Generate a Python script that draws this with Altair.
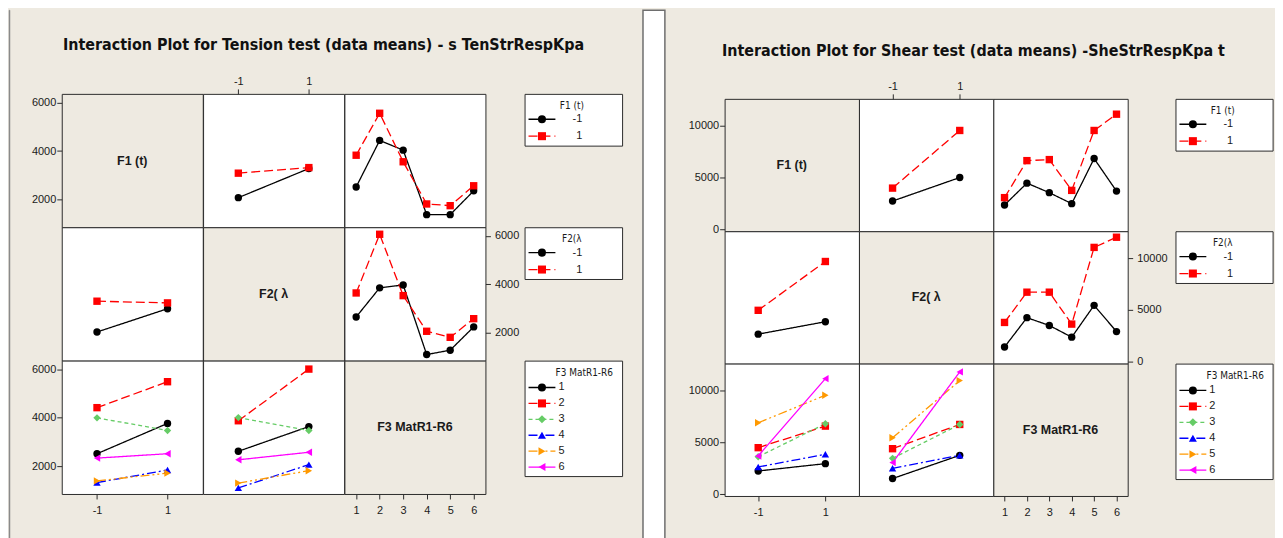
import altair as alt
import pandas as pd

# ---------------- values ----------------
F12_LEVELS = [-1, 1]
F3_LEVELS = [1, 2, 3, 4, 5, 6]
TWO_LABELS = ["-1", "1"]
SIX_LABELS = ["1", "2", "3", "4", "5", "6"]

# Tension test (left figure)
TEN_TITLE = "Interaction Plot  for Tension test (data means) - s TenStrRespKpa"
TEN_F1_BY_F2 = [[2080, 3280], [3090, 3320]]
TEN_F1_BY_F3 = [[2520, 4440, 4040, 1380, 1380, 2360],
                [3830, 5560, 3560, 1820, 1750, 2570]]
TEN_F2_BY_F1 = [[2040, 3000], [3310, 3240]]
TEN_F2_BY_F3 = [[2660, 3860, 3980, 1110, 1290, 2250],
                [3650, 6070, 3540, 2070, 1820, 2590]]
TEN_F3_BY_F1 = [[2520, 3770], [4420, 5490], [4000, 3480],
                [1330, 1850], [1400, 1720], [2340, 2520]]
TEN_F3_BY_F2 = [[2620, 3640], [3880, 6010], [4010, 3480],
                [1110, 2070], [1310, 1820], [2270, 2580]]
TEN_Y_TICKS = [2000, 4000, 6000]
TEN_Y_DOMAIN = [860, 6360]

# Shear test (right figure)
SHE_TITLE = "Interaction Plot  for Shear test  (data means)   -SheStrRespKpa t"
SHE_F1_BY_F2 = [[2740, 5010], [3990, 9550]]
SHE_F1_BY_F3 = [[2360, 4470, 3550, 2490, 6840, 3700],
                [3070, 6640, 6740, 3770, 9550, 11120]]
SHE_F2_BY_F1 = [[2670, 3870], [4970, 9680]]
SHE_F2_BY_F3 = [[1430, 4260, 3510, 2380, 5450, 2920],
                [3800, 6720, 6720, 3640, 11040, 12020]]
SHE_F3_BY_F1 = [[2240, 2950], [4490, 6570], [3620, 6800],
                [2630, 3850], [6890, 9550], [3690, 11150]]
SHE_F3_BY_F2 = [[1510, 3750], [4390, 6730], [3460, 6730],
                [2500, 3750], [5450, 10960], [3050, 11800]]
SHE_Y_TICKS = [0, 5000, 10000]
SHE_Y_DOMAIN = [-170, 12600]

DIAG_LABELS = ["F1 (t)", "F2( \u03bb", "F3 MatR1-R6"]
LEGEND_TITLES = ["F1 (t)", "F2(\u03bb", "F3 MatR1-R6"]

# ---------------- styles ----------------
BG = "#EEEAE1"
FRAME = "#2b2b2b"
TXT = "#1a1a1a"
FONT = "Liberation Sans, Arial, sans-serif"
FONT_C = "DejaVu Sans Condensed, Liberation Sans Narrow, sans-serif"
COLORS6 = ["#000000", "#FF0000", "#66CC66", "#0000FF", "#FF9900", "#FF00FF"]
DASH6 = [[1, 0], [9, 4], [4, 3], [9, 3, 2, 3], [9, 3, 2, 3, 2, 3], [1, 0]]
SHAPE6 = ["circle", "square", "diamond", "triangle-up", "triangle-right", "triangle-left"]
XD2 = [-2, 2]
XD6 = [0.5, 6.5]
MSIZE = 55
NOVIEW = alt.ViewBackground(fill="transparent", stroke="transparent", strokeWidth=0)
INDEP = dict(color="independent", strokeDash="independent", shape="independent")


def long_df(xs, labels, rows):
    recs = []
    for lab, ys in zip(labels, rows):
        for x, y in zip(xs, ys):
            recs.append({"x": x, "y": y, "s": lab})
    return pd.DataFrame(recs)


def axis(orient, values, pad):
    return alt.Axis(orient=orient, values=values, title=None, grid=False, domain=False,
                    ticks=True, tickSize=5, tickColor=FRAME, tickWidth=1,
                    labelColor=TXT, labelFont=FONT, labelFontSize=11, labelPadding=pad,
                    labelExpr="'' + datum.value")


def scales(xdom, ydom, xaxis, yaxis):
    x = alt.X("x:Q", scale=alt.Scale(domain=xdom, nice=False, zero=False), axis=xaxis)
    y = alt.Y("y:Q", scale=alt.Scale(domain=ydom, nice=False, zero=False), axis=yaxis)
    return x, y


def style_enc(labels):
    n = len(labels)
    col = alt.Color("s:N", scale=alt.Scale(domain=labels, range=COLORS6[:n]), legend=None)
    dash = alt.StrokeDash("s:N", scale=alt.Scale(domain=labels, range=DASH6[:n]), legend=None)
    shp = alt.Shape("s:N", scale=alt.Scale(domain=labels, range=SHAPE6[:n]), legend=None)
    return col, dash, shp


def plot_cell(df, labels, xdom, ydom, w, h, xaxis=None, yaxis=None):
    x, y = scales(xdom, ydom, xaxis, yaxis)
    col, dash, shp = style_enc(labels)
    base = alt.Chart(df).encode(x=x, y=y, color=col)
    line = base.mark_line(strokeWidth=1.3).encode(strokeDash=dash)
    pts = base.mark_point(filled=True, size=MSIZE, opacity=1).encode(shape=shp)
    return alt.layer(line, pts).properties(
        width=w, height=h, view=alt.ViewBackground(fill="white", stroke=FRAME, strokeWidth=1))


def diag_cell(label, w, h, df=None, xdom=None, ydom=None, xaxis=None, yaxis=None):
    txt = alt.Chart(pd.DataFrame({"t": [label]})).mark_text(
        font=FONT, fontSize=12.5, fontWeight="bold", color=TXT
    ).encode(text="t:N", x=alt.value(w / 2), y=alt.value(h / 2))
    layers = [txt]
    if df is not None:
        x, y = scales(xdom, ydom, xaxis, yaxis)
        layers.insert(0, alt.Chart(df).mark_point(opacity=0).encode(x=x, y=y))
    return alt.layer(*layers).properties(
        width=w, height=h, view=alt.ViewBackground(fill=BG, stroke=FRAME, strokeWidth=1))


def legend_chart(title, labels, w):
    n = len(labels)
    six = n > 2
    h = 116 if six else 52
    rng = [27, 107] if six else [25.5, 42.5]
    df = pd.DataFrame({"s": labels, "k": list(range(n))})
    y = alt.Y("k:Q", scale=alt.Scale(domain=[0, n - 1], range=rng), axis=None)
    col, dash, shp = style_enc(labels)
    base = alt.Chart(df).encode(y=y, color=col)
    seg = base.mark_rule(strokeWidth=1.3).encode(x=alt.value(4), x2=alt.value(31), strokeDash=dash)
    pts = base.mark_point(filled=True, size=MSIZE + 10, opacity=1).encode(x=alt.value(17.5), shape=shp)
    lab = alt.Chart(df).mark_text(
        font=FONT, fontSize=11, color=TXT, align="left" if six else "right", baseline="middle"
    ).encode(y=y, x=alt.value(34 if six else 58), text="s:N")
    ttl = alt.Chart(pd.DataFrame({"t": [title]})).mark_text(
        font=FONT_C, fontSize=10, color=TXT, align="center", baseline="middle"
    ).encode(text="t:N", x=alt.value(60 if six else 47.5), y=alt.value(12))
    return alt.layer(seg, pts, lab, ttl).resolve_scale(**INDEP).properties(
        width=w, height=h, view=alt.ViewBackground(fill="white", stroke=FRAME, strokeWidth=1))


def spacer(w, h=20):
    return alt.Chart(pd.DataFrame({"t": [""]})).mark_text(fontSize=1).encode(
        text="t:N", x=alt.value(w / 2), y=alt.value(h / 2)
    ).properties(width=w, height=h, view=NOVIEW)


def title_chart(text, w, h, cx, cy):
    return alt.Chart(pd.DataFrame({"t": [text]})).mark_text(
        font=FONT_C, fontSize=16, fontWeight="bold", color="#111111",
        align="center", baseline="middle"
    ).encode(text="t:N", x=alt.value(cx), y=alt.value(cy)).properties(
        width=w, height=h, view=NOVIEW)


def side(title, f1f2, f1f3, f2f1, f2f3, f3f1, f3f2, ydom, yticks, cw, ch, gap, lw,
         top_h, title_cx, title_cy):
    d_f1f2 = long_df(F12_LEVELS, TWO_LABELS, f1f2)
    d_f1f3 = long_df(F3_LEVELS, TWO_LABELS, f1f3)
    d_f2f1 = long_df(F12_LEVELS, TWO_LABELS, f2f1)
    d_f2f3 = long_df(F3_LEVELS, TWO_LABELS, f2f3)
    d_f3f1 = long_df(F12_LEVELS, SIX_LABELS, f3f1)
    d_f3f2 = long_df(F12_LEVELS, SIX_LABELS, f3f2)
    cells = [
        diag_cell(DIAG_LABELS[0], cw, ch, d_f1f2, XD2, ydom, None, axis("left", yticks, 1)),
        plot_cell(d_f1f2, TWO_LABELS, XD2, ydom, cw, ch, xaxis=axis("top", F12_LEVELS, 2)),
        plot_cell(d_f1f3, TWO_LABELS, XD6, ydom, cw, ch),
        spacer(gap),
        legend_chart(LEGEND_TITLES[0], TWO_LABELS, lw),

        plot_cell(d_f2f1, TWO_LABELS, XD2, ydom, cw, ch),
        diag_cell(DIAG_LABELS[1], cw, ch),
        plot_cell(d_f2f3, TWO_LABELS, XD6, ydom, cw, ch, yaxis=axis("right", yticks, 4)),
        spacer(gap),
        legend_chart(LEGEND_TITLES[1], TWO_LABELS, lw),

        plot_cell(d_f3f1, SIX_LABELS, XD2, ydom, cw, ch,
                  xaxis=axis("bottom", F12_LEVELS, 6), yaxis=axis("left", yticks, 1)),
        plot_cell(d_f3f2, SIX_LABELS, XD2, ydom, cw, ch),
        diag_cell(DIAG_LABELS[2], cw, ch, d_f2f3, XD6, ydom, axis("bottom", F3_LEVELS, 6), None),
        spacer(gap),
        legend_chart(LEGEND_TITLES[2], SIX_LABELS, lw),
    ]
    grid = alt.concat(*cells, columns=5, spacing=0, bounds="flush",
                      align="each").resolve_scale(**INDEP)
    head = title_chart(title, 3 * cw + gap + lw, top_h, title_cx, title_cy)
    return alt.concat(head, grid, columns=1, spacing=0, bounds="flush",
                      align="each").resolve_scale(**INDEP)


left = side(TEN_TITLE, TEN_F1_BY_F2, TEN_F1_BY_F3, TEN_F2_BY_F1, TEN_F2_BY_F3,
            TEN_F3_BY_F1, TEN_F3_BY_F2, TEN_Y_DOMAIN, TEN_Y_TICKS, 141.7, 134, 39, 98,
            84, 263, 35)
right = side(SHE_TITLE, SHE_F1_BY_F2, SHE_F1_BY_F3, SHE_F2_BY_F1, SHE_F2_BY_F3,
             SHE_F3_BY_F1, SHE_F3_BY_F2, SHE_Y_DOMAIN, SHE_Y_TICKS, 135, 133, 47.7, 97.6,
             89, 250, 41)


def frame_piece(w, h, fill, stroke, sw):
    return alt.Chart(pd.DataFrame({"t": [""]})).mark_text(fontSize=1).encode(
        text="t:N", x=alt.value(w / 2), y=alt.value(h / 2)
    ).properties(width=w, height=h,
                 view=alt.ViewBackground(fill=fill, stroke=stroke, strokeWidth=sw))


border = frame_piece(1, 540, "#8a8a8a", "#8a8a8a", 0.5)
strip = frame_piece(22, 540, "white", "#6e6e6e", 1.5)

chart = alt.concat(
    border, spacer(20), left, spacer(19), strip, spacer(20.4), right,
    columns=7, spacing=0, bounds="full", align="none",
).resolve_scale(**INDEP).properties(
    background=BG,
    padding={"left": 0, "top": 0, "right": 1, "bottom": 0},
).configure_view(strokeWidth=0)

chart.save("out.html", embed_options={"renderer": "svg", "actions": False})
